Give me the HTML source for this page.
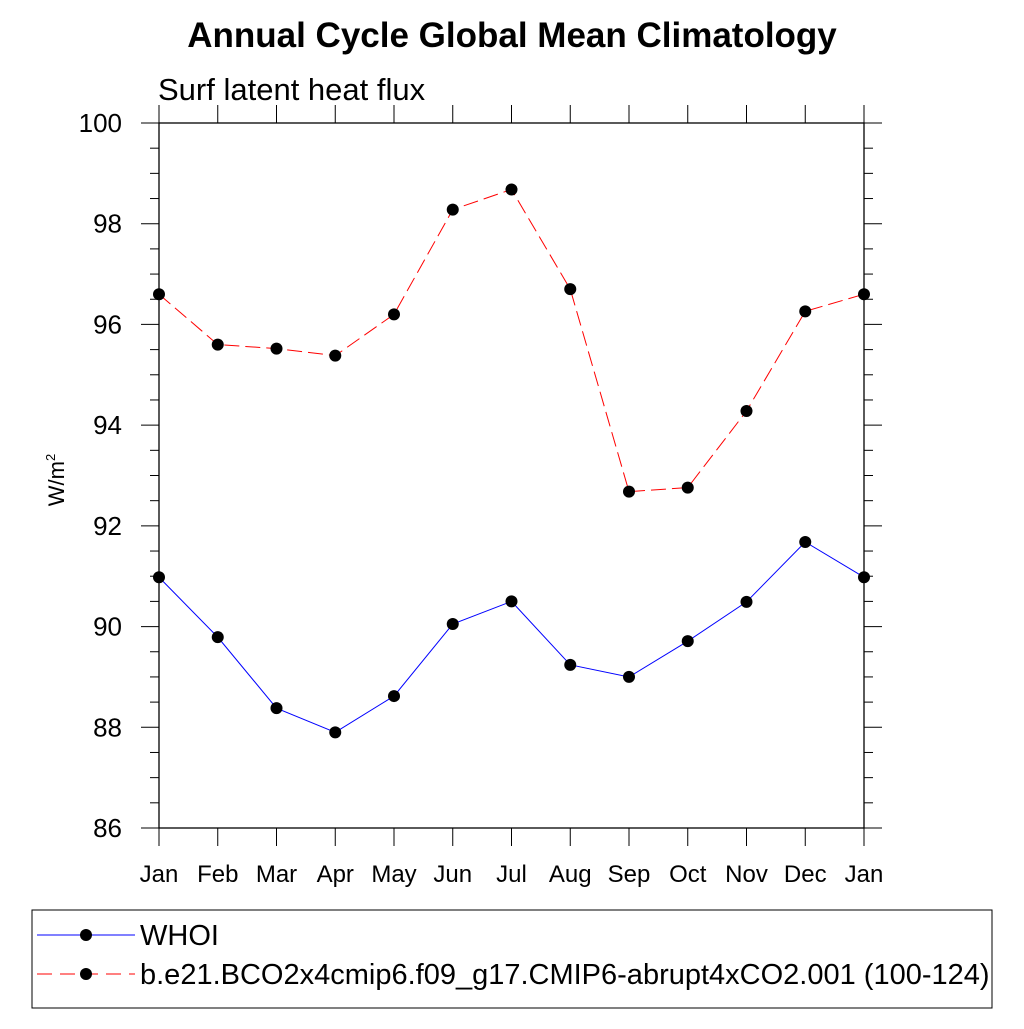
<!DOCTYPE html>
<html><head><meta charset="utf-8"><style>
body{margin:0;background:#fff;}
svg text{font-family:"Liberation Sans",sans-serif;}
</style></head><body>
<svg id="chart" width="1024" height="1024" xmlns="http://www.w3.org/2000/svg">
<text x="512" y="47" text-anchor="middle" font-size="35" font-weight="bold">Annual Cycle Global Mean Climatology</text>
<text x="158" y="100" font-size="31">Surf latent heat flux</text>
<text transform="translate(64,480) rotate(-90)" text-anchor="middle" font-size="22">W/m<tspan font-size="13" dy="-9">2</tspan></text>
<g id="axes"></g>
<g id="series"></g>
<rect x="32" y="910" width="960" height="98" fill="none" stroke="#000" stroke-width="1"/>
<g>
<line x1="37" y1="935" x2="135" y2="935" stroke="#00f" stroke-width="1"/>
<circle cx="86" cy="935" r="6" fill="#000"/>
<text x="140" y="945" font-size="29">WHOI</text>
</g>
<g>
<line x1="37" y1="974" x2="135" y2="974" stroke="#f00" stroke-width="1" stroke-dasharray="15,8"/>
<circle cx="86" cy="974" r="6" fill="#000"/>
<text x="140" y="984" font-size="29">b.e21.BCO2x4cmip6.f09_g17.CMIP6-abrupt4xCO2.001 (100-124)</text>
</g>
</svg>
<script>
const months=["Jan","Feb","Mar","Apr","May","Jun","Jul","Aug","Sep","Oct","Nov","Dec","Jan"];
const whoi=[90.98,89.79,88.38,87.9,88.62,90.05,90.5,89.24,89.0,89.71,90.49,91.68,90.98];
const model=[96.6,95.6,95.52,95.38,96.2,98.28,98.68,96.7,92.68,92.76,94.28,96.26,96.6];
const yTicks=[86,88,90,92,94,96,98,100];
const NS="http://www.w3.org/2000/svg";
const L=159,R=864,T=123,B=828,ymin=86,ymax=100;
const xs=i=>L+(R-L)*i/(months.length-1);
const ys=v=>B-(v-ymin)/(ymax-ymin)*(B-T);
function mk(tag,attrs,parent){const e=document.createElementNS(NS,tag);for(const k in attrs)e.setAttribute(k,attrs[k]);parent.appendChild(e);return e;}
const ax=document.getElementById('axes');
const frame=mk('rect',{x:L,y:T,width:R-L,height:B-T,fill:'none',stroke:'#000','stroke-width':1.3},ax);


for(let v=ymin;v<=ymax+1e-9;v+=0.5){
  const y=ys(v);const maj=Math.abs(v/2-Math.round(v/2))<1e-9;const len=maj?18:9;
  mk('line',{x1:L-len,y1:y,x2:L,y2:y,stroke:'#000','stroke-width':1},ax);
  mk('line',{x1:R,y1:y,x2:R+len,y2:y,stroke:'#000','stroke-width':1},ax);
}
yTicks.forEach(v=>{
  const t=mk('text',{x:122,y:ys(v)+9,'text-anchor':'end','font-size':26},ax);
  t.textContent=v;
  
  
});
months.forEach((m,i)=>{
  const x=xs(i);
  mk('line',{x1:x,y1:T-18,x2:x,y2:T,stroke:'#000','stroke-width':1},ax);
  mk('line',{x1:x,y1:B,x2:x,y2:B+18,stroke:'#000','stroke-width':1},ax);
  const t=mk('text',{x:x,y:882,'text-anchor':'middle','font-size':24},ax);
  t.textContent=m;
  
  
});
const sg=document.getElementById('series');
function draw(vals,color,dash,name){
  const pts=vals.map((v,i)=>xs(i)+','+ys(v)).join(' ');
  const pl=mk('polyline',{points:pts,fill:'none',stroke:color,'stroke-width':1,'stroke-dasharray':dash},sg);
  
  
  vals.forEach((v,i)=>{
    const c=mk('circle',{cx:xs(i),cy:ys(v),r:6,fill:'#000'},sg);
    
    
  });
}
draw(whoi,'#00f','none','whoi');
draw(model,'#f00','15,6','model');
</script>
</body></html>
